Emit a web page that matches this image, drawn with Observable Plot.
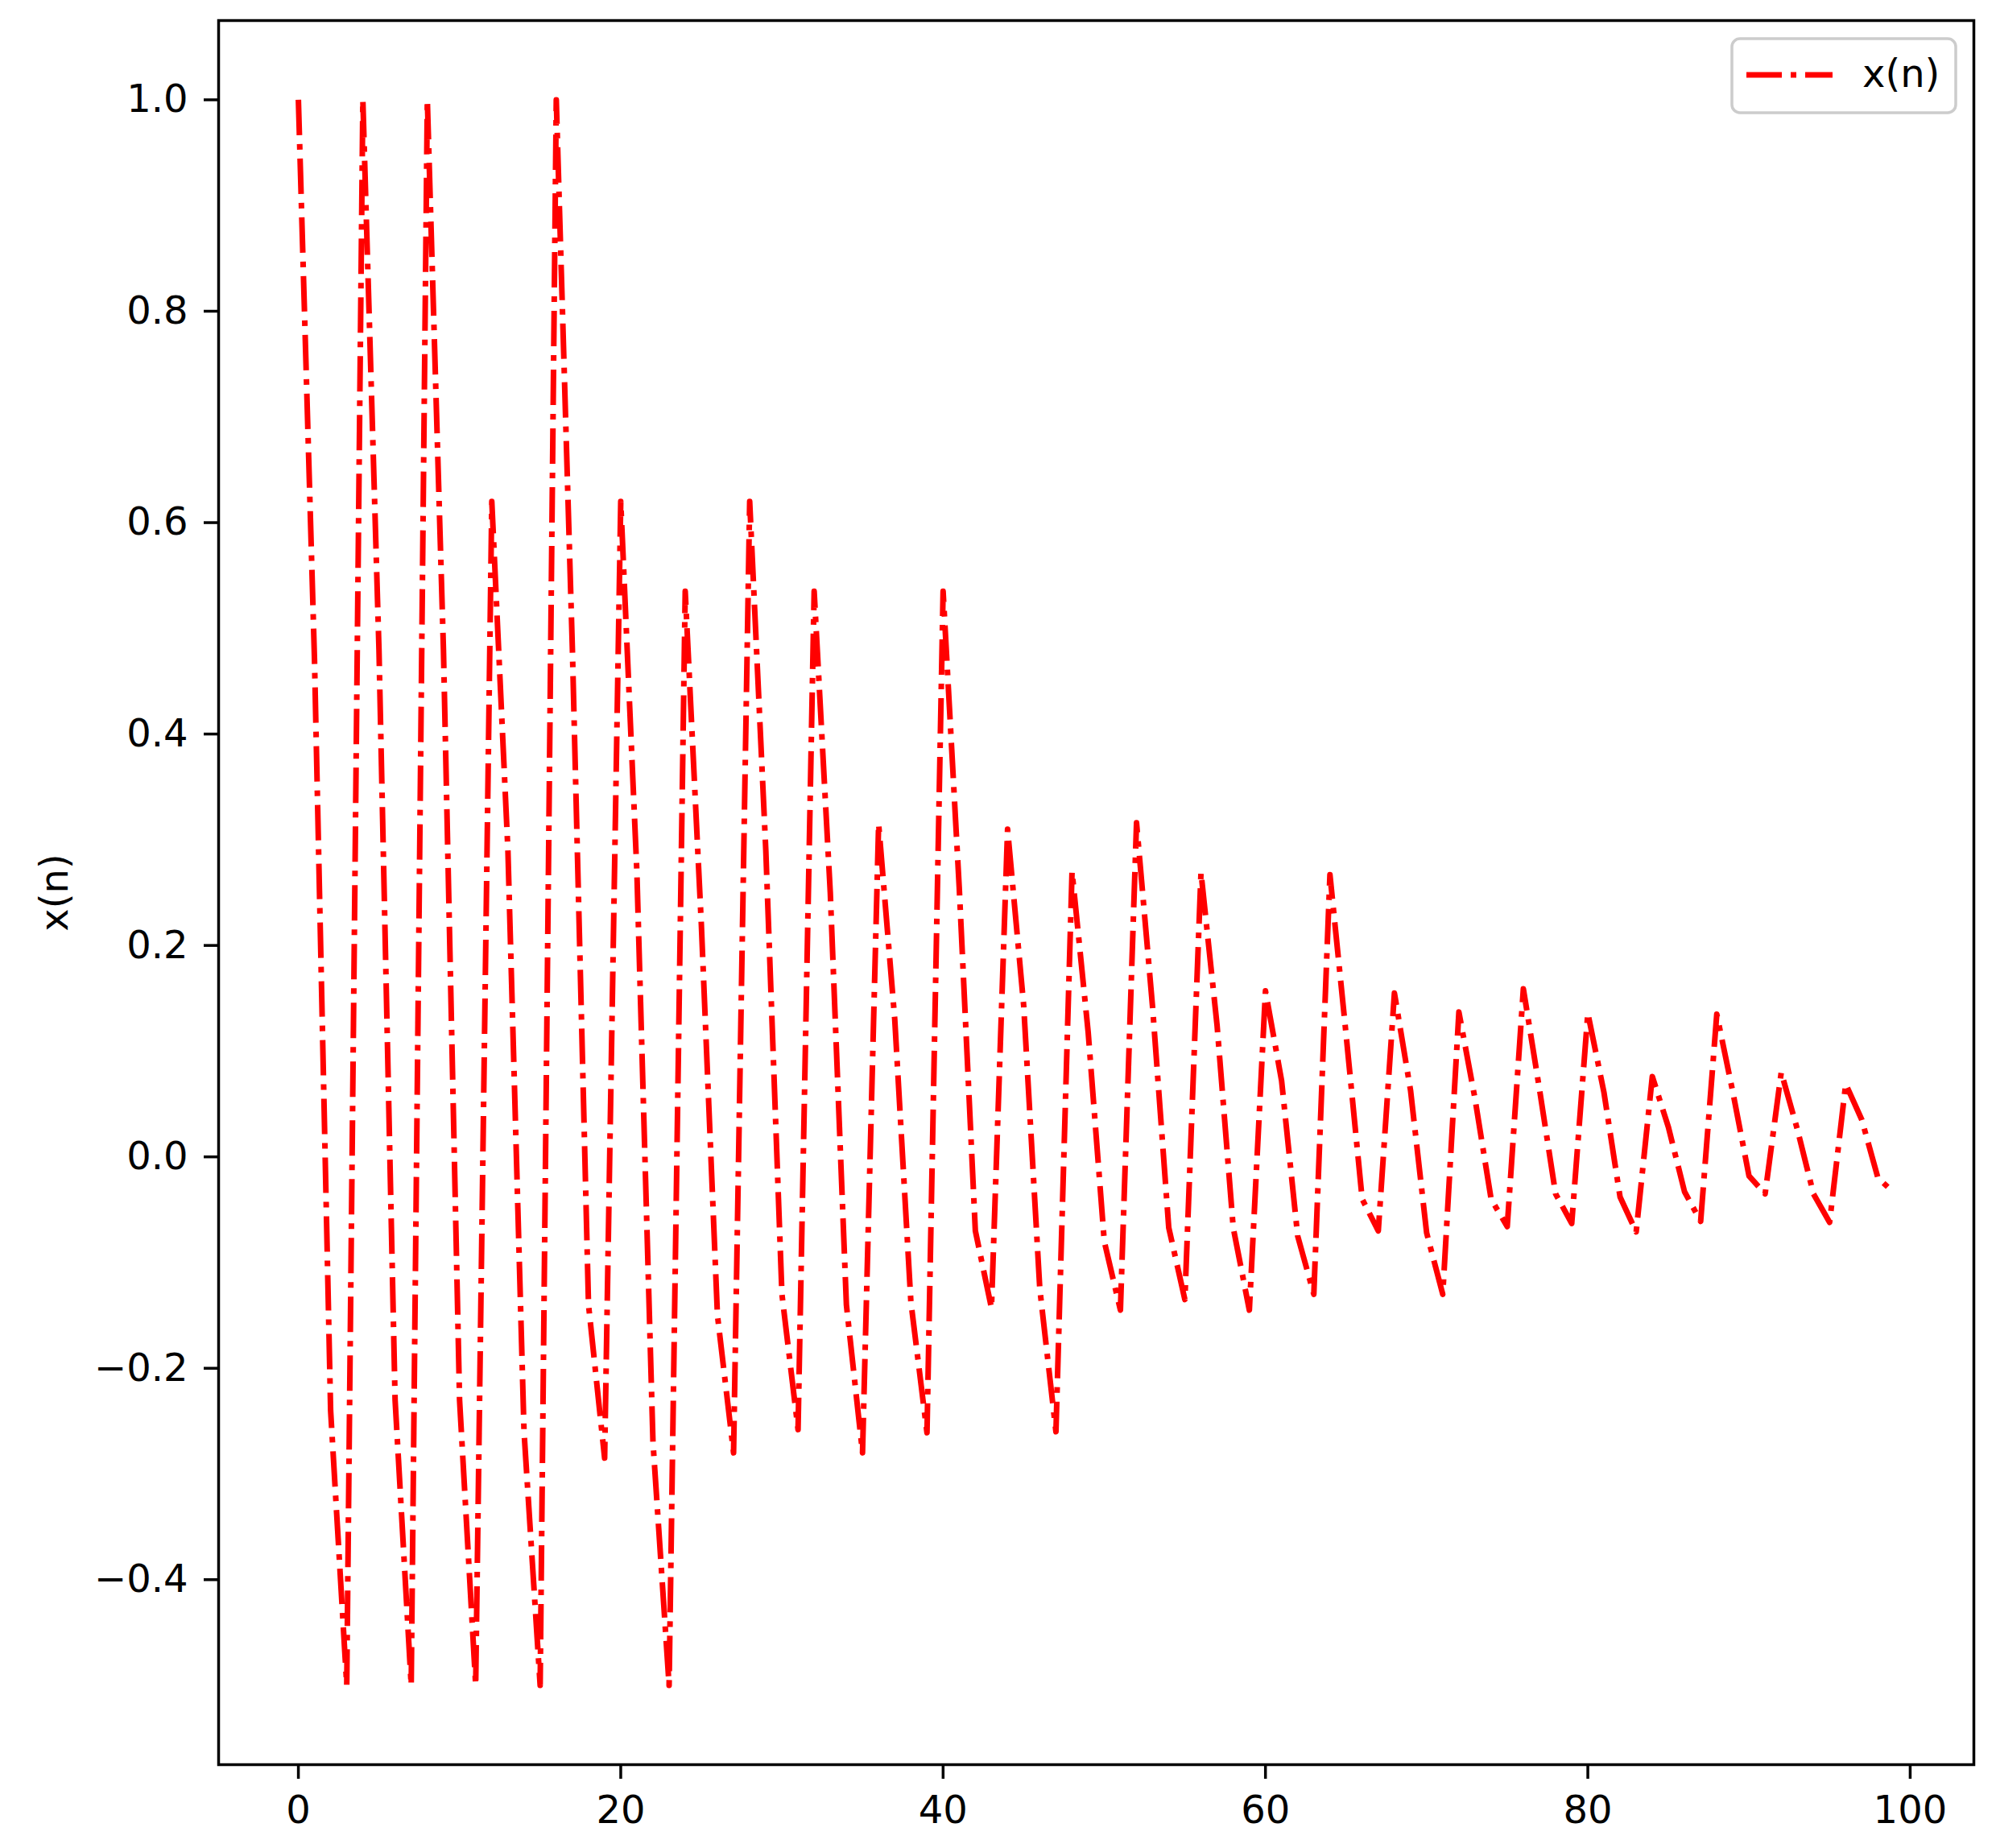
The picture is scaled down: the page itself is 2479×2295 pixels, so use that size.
<!DOCTYPE html>
<html>
<head>
<meta charset="utf-8">
<script src="https://cdn.jsdelivr.net/npm/d3@7"></script>
<script src="https://cdn.jsdelivr.net/npm/@observablehq/plot@0.6"></script>
<style>
  html, body { margin: 0; padding: 0; background: #ffffff; }
  #chart { width: 2479px; height: 2295px; }
</style>
</head>
<body>
<div id="chart"></div>
<script>
const seriesName = "x(n)";
const nValues = d3.range(0, 100);
const xnValues = [
  1.0, 0.47, -0.24, -0.5,
  1.0, 0.48, -0.23, -0.5,
  1.0, 0.48, -0.23, -0.5,
  0.62, 0.29, -0.26, -0.5,
  1.0, 0.48, -0.14, -0.285,
  0.62, 0.27, -0.27, -0.5,
  0.535, 0.22, -0.15, -0.28,
  0.62, 0.29, -0.13, -0.258,
  0.535, 0.25, -0.14, -0.28,
  0.315, 0.13, -0.137, -0.261,
  0.535, 0.255, -0.07, -0.143,
  0.31, 0.143, -0.125, -0.26,
  0.27, 0.118, -0.08, -0.145,
  0.316, 0.141, -0.067, -0.135,
  0.269, 0.124, -0.067, -0.145,
  0.157, 0.072, -0.075, -0.13,
  0.267, 0.116, -0.04, -0.07,
  0.155, 0.063, -0.072, -0.13,
  0.137, 0.055, -0.04, -0.066,
  0.159, 0.064, -0.035, -0.063,
  0.136, 0.061, -0.038, -0.071,
  0.076, 0.028, -0.033, -0.061,
  0.135, 0.061, -0.018, -0.035,
  0.08, 0.026, -0.035, -0.062,
  0.069, 0.035, -0.02, -0.034
];
const xTicks = [0, 20, 40, 60, 80, 100];
const yTicks = [-0.4, -0.2, 0.0, 0.2, 0.4, 0.6, 0.8, 1.0];

const data = nValues.map((n, i) => ({n, v: xnValues[i]}));
const fmtY = d => d.toFixed(1).replace("-", "\u2212");
const dash = "44,11,7,11";

const chart = Plot.plot({
  width: 2479,
  height: 2295,
  marginLeft: 271,
  marginRight: 28,
  marginTop: 25,
  marginBottom: 104,
  style: {fontFamily: "DejaVu Sans", fontSize: "48px", background: "#ffffff", color: "#000000"},
  x: {domain: [-4.95, 103.95]},
  y: {domain: [-0.575, 1.075]},
  marks: [
    Plot.line(data, {x: "n", y: "v", stroke: "#ff0000", strokeWidth: 7, strokeDasharray: dash, strokeLinecap: "butt", strokeLinejoin: "round"}),
    Plot.axisX({ticks: xTicks, tickSize: 18, tickPadding: 20, tickFormat: d => String(d), label: null, strokeWidth: 3.5, fontSize: 48}),
    Plot.axisY({ticks: yTicks, tickSize: 18, tickPadding: 20, tickFormat: fmtY, label: seriesName, labelAnchor: "center", labelArrow: "none", labelOffset: 222, strokeWidth: 3.5, fontSize: 48}),
    Plot.frame({stroke: "#000000", strokeWidth: 3.5})
  ]
});

document.getElementById("chart").appendChild(chart);

// legend inside the axes, top-right
const svg = d3.select(chart);
const lg = svg.append("g");
lg.append("rect")
  .attr("x", 2151).attr("y", 48).attr("width", 278).attr("height", 92)
  .attr("rx", 10).attr("ry", 10)
  .attr("fill", "#ffffff").attr("fill-opacity", 0.8)
  .attr("stroke", "#cccccc").attr("stroke-width", 3.5);
lg.append("line")
  .attr("x1", 2169).attr("x2", 2276).attr("y1", 93).attr("y2", 93)
  .attr("stroke", "#ff0000").attr("stroke-width", 7)
  .attr("stroke-dasharray", dash).attr("stroke-linecap", "butt");
lg.append("text")
  .attr("x", 2313).attr("y", 108)
  .attr("text-anchor", "start")
  .attr("font-family", "DejaVu Sans").attr("font-size", 48).attr("fill", "#000000")
  .text(seriesName);
</script>
</body>
</html>
